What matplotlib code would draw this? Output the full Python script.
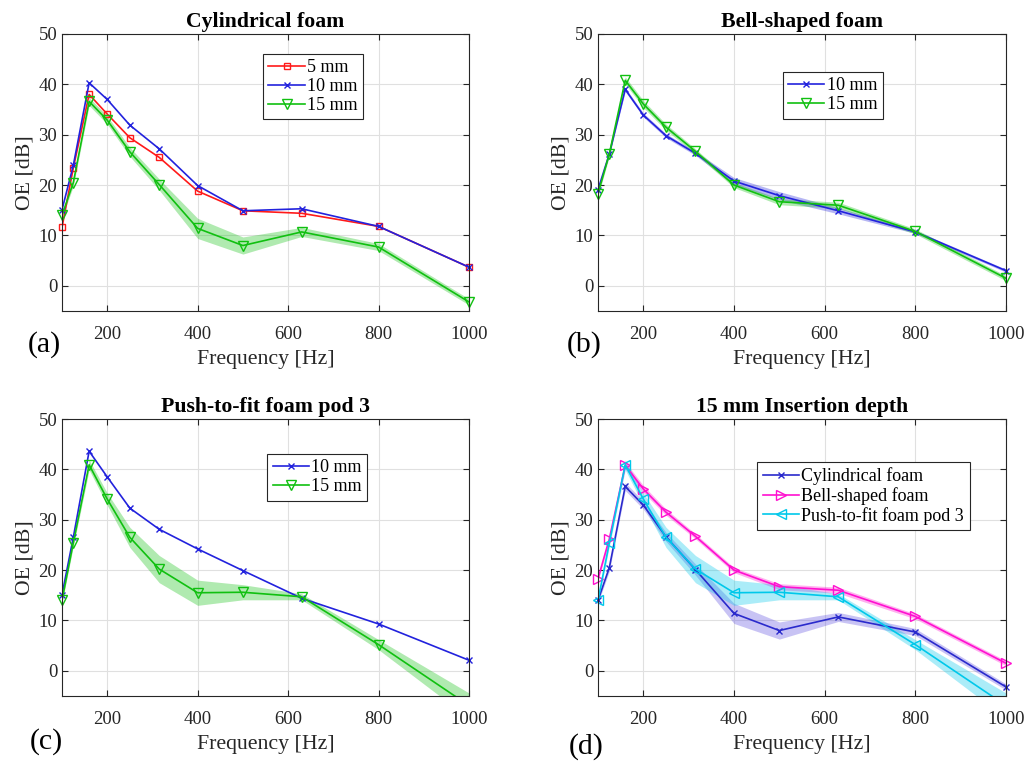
import numpy as np
import matplotlib
matplotlib.use("Agg")
import matplotlib.pyplot as plt

# ---------------------------------------------------------------------------
# data
# ---------------------------------------------------------------------------
freq = [100, 125, 160, 200, 250, 315, 400, 500, 630, 800, 1000]

# (a) cylindrical foam
cyl_5  = [11.6, 23.4, 38.0, 34.1, 29.4, 25.5, 18.8, 14.9, 14.4, 11.8, 3.7]
cyl_10 = [15.1, 23.9, 40.3, 37.0, 31.9, 27.2, 19.9, 14.9, 15.3, 11.8, 3.7]
cyl_15 = [14.0, 20.5, 36.6, 32.9, 26.6, 20.1, 11.4, 8.0, 10.7, 7.7, -3.2]
cyl_15_sd = [0.5, 0.7, 0.8, 0.8, 0.9, 1.1, 2.0, 1.7, 0.9, 0.7, 0.6]

# (b) bell-shaped foam
bell_10 = [19.1, 26.2, 39.0, 33.9, 29.8, 26.3, 20.8, 17.9, 14.9, 10.7, 3.0]
bell_10_sd = [0.3, 0.3, 0.4, 0.4, 0.4, 0.4, 0.7, 0.8, 0.6, 0.3, 0.3]
bell_15 = [18.3, 26.2, 40.8, 36.1, 31.5, 26.7, 20.0, 16.7, 16.0, 10.8, 1.5]
bell_15_sd = [0.5, 0.5, 0.7, 0.7, 0.6, 0.5, 0.5, 0.6, 0.6, 0.5, 0.5]

# (c) push-to-fit foam pod 3
pod_10 = [15.1, 26.5, 43.6, 38.5, 32.3, 28.1, 24.2, 19.9, 14.4, 9.3, 2.1]
pod_15 = [14.0, 25.4, 40.9, 34.1, 26.5, 20.2, 15.5, 15.6, 14.7, 5.2, -6.9]
pod_15_sd = [0.5, 0.7, 1.0, 1.2, 2.0, 2.7, 2.5, 1.5, 0.6, 1.0, 2.5]

RED = "#ff1a1a"
BLUE = "#2222dd"
GREEN = "#10c010"
DBLUE = "#2a2acc"
MAGENTA = "#ff10d0"
CYAN = "#00c8ea"
TICK_FS = 13.5
LABEL_FS = 15.7
LEG_FS = 13

plt.rcParams["font.family"] = ["Liberation Serif", "DejaVu Serif"]

fig = plt.figure(figsize=(10.28, 7.61), dpi=100)
W, H = 1028, 761


def make_ax(left_px, top_px, right_px, bottom_px):
    ax = fig.add_axes([left_px / W, 1 - bottom_px / H,
                       (right_px - left_px) / W, (bottom_px - top_px) / H])
    ax.set_xlim(100, 1000)
    ax.set_ylim(-5, 50)
    ax.set_xticks([200, 400, 600, 800, 1000])
    ax.set_yticks([0, 10, 20, 30, 40, 50])
    ax.grid(True, color="#e0e0e0", linewidth=0.8)
    ax.set_axisbelow(True)
    ax.tick_params(direction="in", top=True, right=True, length=4,
                   colors="#262626", labelcolor="#262626", labelsize=TICK_FS)
    ax.tick_params(axis="x", pad=11)
    ax.tick_params(axis="y", pad=3.5)
    for s in ax.spines.values():
        s.set_color("#262626")
        s.set_linewidth(0.8)
    ax.set_xlabel("Frequency [Hz]", color="#262626", fontsize=LABEL_FS,
                  labelpad=4.5)
    ax.set_ylabel("OE [dB]", color="#262626", fontsize=LABEL_FS, labelpad=3)
    return ax


def series(ax, y, color, marker, label, sd=None, band=None, ms=6.5):
    y = np.array(y)
    if sd is not None:
        ax.fill_between(freq, y - np.array(sd), y + np.array(sd),
                        color=band or color, alpha=0.33, linewidth=0)
    ax.plot(freq, y, color=color, linewidth=1.2)
    # markers are not clipped at the axes edge, only hidden when off-scale
    ym = np.where(y >= -5, y, np.nan)
    ax.plot(freq, ym, linestyle="none", marker=marker, markersize=ms,
            markerfacecolor="none", markeredgecolor=color, clip_on=False)
    ax.plot([], [], color=color, marker=marker, markersize=ms,
            markerfacecolor="none", linewidth=1.2, label=label)


def legend(ax, x, y):
    leg = ax.legend(loc="upper left", bbox_to_anchor=(x, y), fontsize=LEG_FS,
                    fancybox=False, framealpha=1, edgecolor="#262626",
                    handlelength=2.0, handletextpad=0.15, borderpad=0.3,
                    labelspacing=0.1, borderaxespad=0)
    leg.get_frame().set_linewidth(0.8)


def title(ax, text):
    ax.set_title(text, fontweight="bold", fontsize=LABEL_FS, pad=5)


# (a)
ax = make_ax(62, 34, 469, 311)
series(ax, cyl_5, RED, "s", "5 mm", ms=5)
series(ax, cyl_10, BLUE, "x", "10 mm", ms=4.5)
series(ax, cyl_15, GREEN, "v", "15 mm", sd=cyl_15_sd)
title(ax, "Cylindrical foam")
legend(ax, 0.494, 0.928)

# (b)
ax = make_ax(598, 34, 1006, 311)
series(ax, bell_10, BLUE, "x", "10 mm", sd=bell_10_sd, ms=4.5)
series(ax, bell_15, GREEN, "v", "15 mm", sd=bell_15_sd)
title(ax, "Bell-shaped foam")
legend(ax, 0.453, 0.863)

# (c)
ax = make_ax(62, 419, 469, 696)
series(ax, pod_10, BLUE, "x", "10 mm", ms=4.5)
series(ax, pod_15, GREEN, "v", "15 mm", sd=pod_15_sd)
title(ax, "Push-to-fit foam pod 3")
legend(ax, 0.504, 0.874)

# (d)
ax = make_ax(598, 419, 1006, 696)
series(ax, cyl_15, DBLUE, "x", "Cylindrical foam", sd=cyl_15_sd,
       band="#5a4ae0", ms=4.5)
series(ax, bell_15, MAGENTA, ">", "Bell-shaped foam", sd=bell_15_sd)
series(ax, pod_15, CYAN, "<", "Push-to-fit foam pod 3", sd=pod_15_sd)
title(ax, "15 mm Insertion depth")
legend(ax, 0.39, 0.845)

# panel letters
for lbl, xp, yp in [("(a)", 28, 352), ("(b)", 567, 352),
                    ("(c)", 30, 749), ("(d)", 569, 754)]:
    fig.text(xp / W, 1 - yp / H, lbl, fontsize=21.5, color="black",
             ha="left", va="baseline")

fig.savefig("out.png", dpi=100)
